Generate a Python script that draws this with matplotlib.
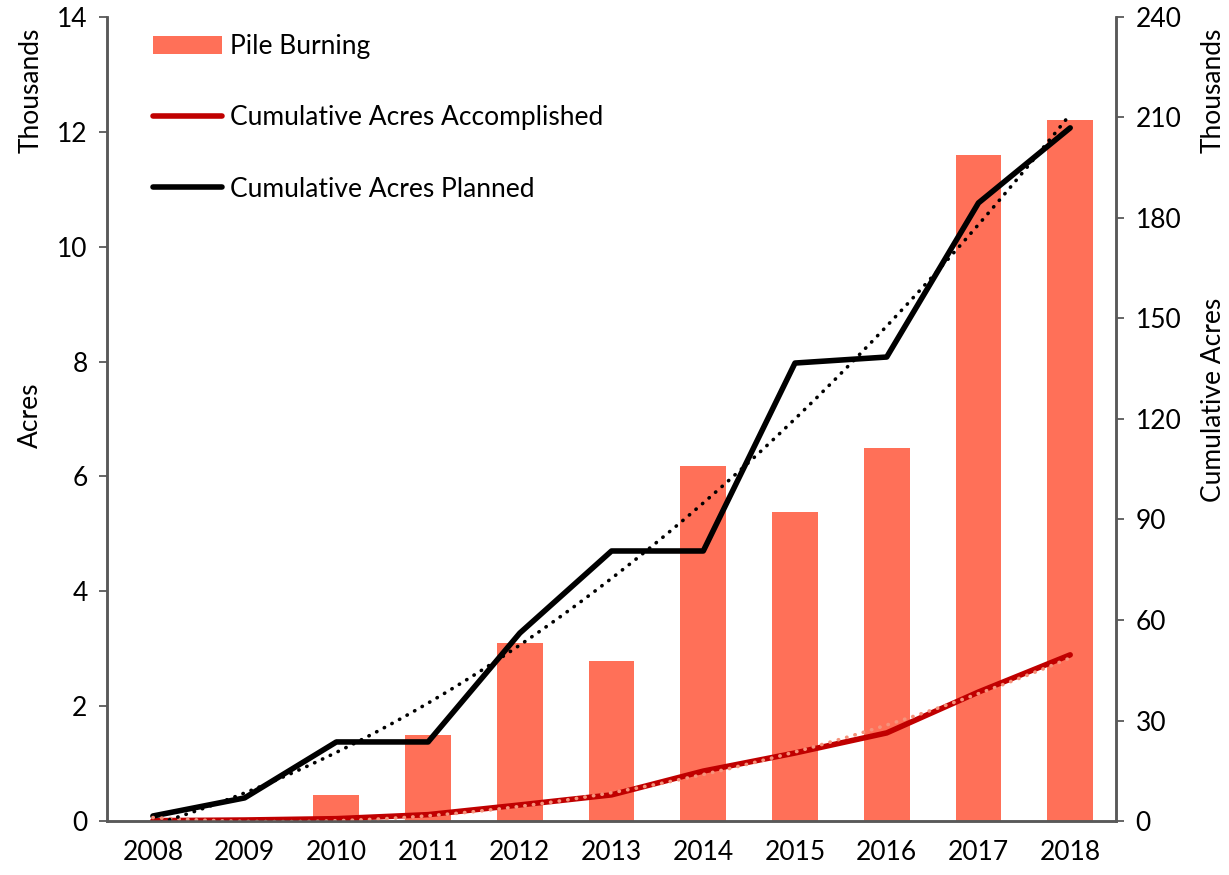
import numpy as np
import matplotlib
matplotlib.use('Agg')
import matplotlib.pyplot as plt

years = ['2008', '2009', '2010', '2011', '2012', '2013', '2014', '2015', '2016', '2017', '2018']
# acres, thousands
pile_burning = [0.0, 0.0, 0.45, 1.5, 3.1, 2.79, 6.18, 5.38, 6.49, 11.6, 12.2]
# cumulative acres, thousands
cum_accomplished = [0.1, 0.3, 0.7, 1.9, 4.8, 7.8, 14.9, 20.3, 26.3, 38.5, 49.6]
cum_planned = [1.5, 6.9, 23.6, 23.6, 56.1, 80.6, 80.6, 136.7, 138.5, 184.5, 206.9]

plt.rcParams['font.family'] = ['Lato', 'DejaVu Sans']
plt.rcParams['font.size'] = 19

fig = plt.figure(figsize=(12.29, 8.75), dpi=100)
ax = fig.add_axes([0.0871, 0.0617, 0.8210, 0.9189])
ax2 = ax.twinx()

x = np.arange(len(years))
bars = ax.bar(x, pile_burning, width=0.5, color='#ff7058', label='Pile Burning', zorder=2)

l1, = ax2.plot(x, cum_accomplished, color='#c00000', lw=4.0, solid_capstyle='round',
               label='Cumulative Acres Accomplished')
l2, = ax2.plot(x, cum_planned, color='black', lw=4.0, solid_capstyle='round',
               label='Cumulative Acres Planned')

# polynomial trendlines (order 2)
xt = np.linspace(0, 10, 200)
pa = np.polyfit(x, cum_accomplished, 2)
pp = np.polyfit(x, cum_planned, 2)
ax2.plot(xt, np.polyval(pa, xt), color='#f4937c', lw=2.6, linestyle=(0, (0.1, 2.3)),
         dash_capstyle='round')
ax2.plot(xt, np.polyval(pp, xt), color='black', lw=2.6, linestyle=(0, (0.1, 2.3)),
         dash_capstyle='round')

ax.set_xlim(-0.5, 10.5)
ax.set_ylim(0, 14)
ax2.set_ylim(0, 240)
ax.set_yticks(range(0, 15, 2))
ax2.set_yticks(range(0, 241, 30))
ax.set_xticks(x)
ax.set_xticklabels(years)

spine_col = '#595959'
for a in (ax, ax2):
    a.spines['top'].set_visible(False)
    for s in ('left', 'right', 'bottom'):
        a.spines[s].set_color(spine_col)
        a.spines[s].set_linewidth(1.8)
ax.tick_params(axis='y', length=6, width=1.3, color=spine_col, pad=8)
ax2.tick_params(axis='y', length=6, width=1.3, color=spine_col, pad=8)
ax.tick_params(axis='x', length=0, pad=14)

fig.text(0.025, 0.897, 'Thousands', rotation=90, ha='center', va='center', fontsize=19)
fig.text(0.025, 0.526, 'Acres', rotation=90, ha='center', va='center', fontsize=19)
fig.text(0.987, 0.897, 'Thousands', rotation=90, ha='center', va='center', fontsize=19)
fig.text(0.987, 0.543, 'Cumulative Acres', rotation=90, ha='center', va='center', fontsize=19)

leg = ax2.legend([bars, l1, l2], ['Pile Burning', 'Cumulative Acres Accomplished',
                                  'Cumulative Acres Planned'],
                 loc='upper left', bbox_to_anchor=(0.022, 1.008), frameon=False,
                 handlelength=2.6, handletextpad=0.3, labelspacing=1.75, fontsize=19)

fig.savefig('out.png', dpi=100)
